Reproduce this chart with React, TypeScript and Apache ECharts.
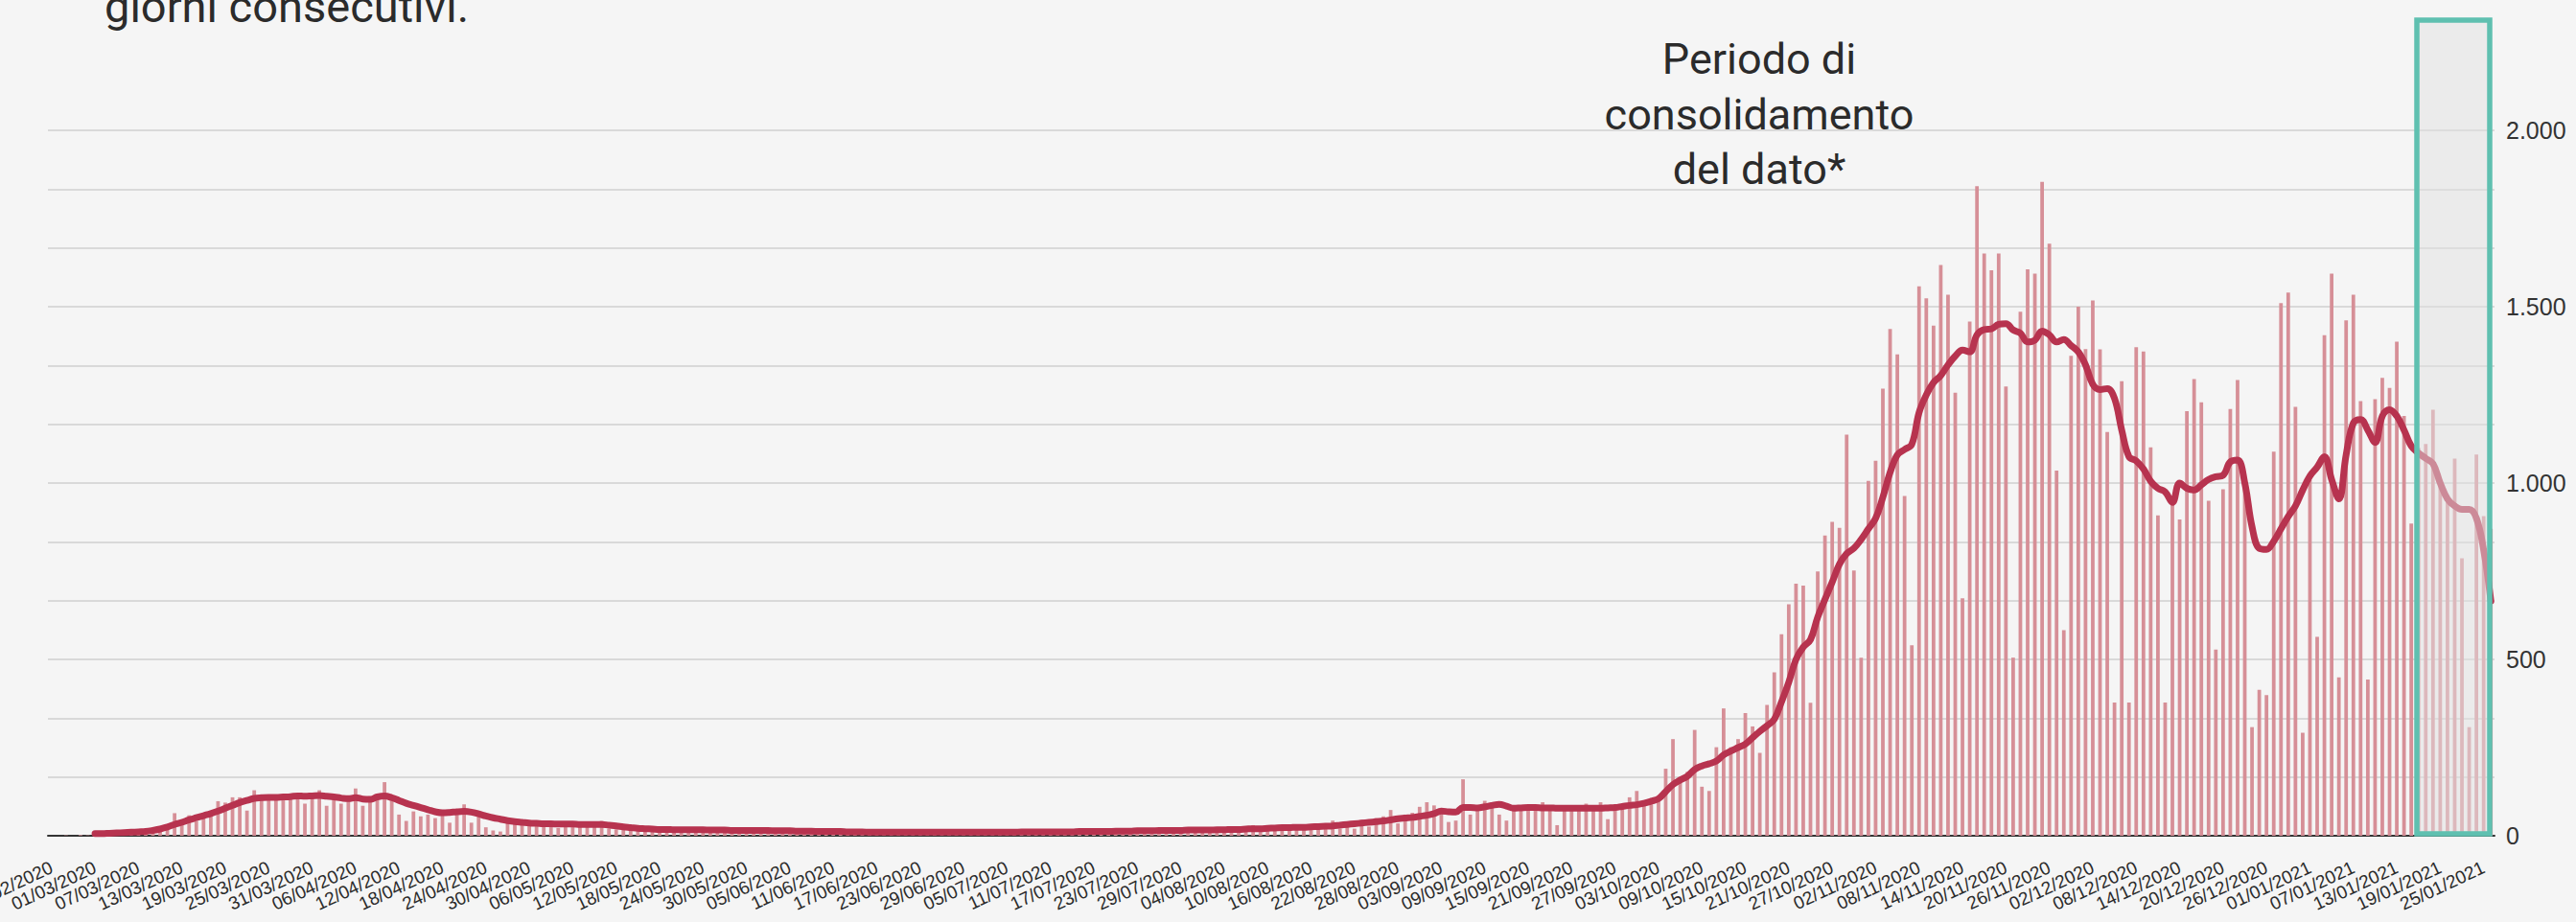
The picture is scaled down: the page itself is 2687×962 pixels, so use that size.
import React, { useEffect, useRef } from "react";
import * as echarts from "echarts";

// ---------- categories: daily dates 24/02/2020 .. 26/01/2021 ----------
const FIRST_DAY = Date.UTC(2020, 1, 24);
const DAY_COUNT = 338;
const pad2 = (n: number) => (n < 10 ? "0" + n : String(n));
const categories: string[] = [];
for (let i = 0; i < DAY_COUNT; i++) {
  const d = new Date(FIRST_DAY + i * 86400000);
  categories.push(`${pad2(d.getUTCDate())}/${pad2(d.getUTCMonth() + 1)}/${d.getUTCFullYear()}`);
}

// ---------- daily values (bars), by month ----------
const barsFeb = [0, 0, 1, 0, 2, 1];
const barsMar = [3, 1, 4, 6, 5, 9, 8, 12, 14, 20, 26, 64, 45, 58, 42, 51, 70, 98, 94, 109, 109, 71, 129, 106, 108, 104, 110, 105, 116, 91, 121];
const barsApr = [129, 85, 112, 91, 108, 134, 85, 112, 104, 152, 110, 60, 42, 69, 55, 60, 50, 65, 37, 62, 89, 37, 67, 24, 15, 12, 40, 35, 30, 38];
const barsMay = [28, 35, 30, 22, 40, 38, 34, 25, 30, 42, 20, 18, 25, 30, 15, 12, 20, 22, 18, 15, 10, 20, 16, 22, 14, 12, 18, 15, 13, 16, 12];
const barsJun = [14, 10, 12, 8, 14, 11, 9, 6, 13, 12, 9, 12, 8, 10, 7, 11, 9, 12, 6, 10, 12, 8, 9, 11, 7, 10, 8, 12, 9, 10];
const barsJul = [8, 10, 7, 12, 9, 11, 6, 10, 12, 8, 11, 9, 13, 10, 8, 12, 11, 9, 14, 10, 12, 11, 15, 13, 9, 14, 16, 12, 15, 18, 14];
const barsAug = [12, 16, 10, 18, 14, 20, 22, 30, 15, 20, 24, 18, 23, 25, 28, 20, 30, 35, 43, 20, 38, 20, 45, 26, 50, 55, 73, 35, 60, 65, 82];
const barsSep = [95, 86, 70, 39, 43, 160, 60, 85, 99, 95, 60, 43, 86, 80, 78, 82, 95, 85, 30, 75, 82, 78, 91, 80, 95, 47, 75, 78, 109, 127];
const barsOct = [88, 92, 100, 190, 274, 150, 181, 300, 139, 127, 251, 361, 251, 274, 348, 310, 235, 371, 463, 571, 656, 715, 709, 377, 749, 851, 890, 873, 1137, 752, 505];
const barsNov = [1006, 1063, 1268, 1437, 1365, 963, 540, 1558, 1524, 1446, 1618, 1534, 1256, 673, 1458, 1842, 1651, 1603, 1651, 1274, 505, 1486, 1606, 1594, 1854, 1679, 1035, 583, 1361, 1500];
const barsDec = [1380, 1518, 1379, 1145, 378, 1289, 378, 1385, 1373, 1101, 908, 378, 960, 897, 1204, 1295, 1229, 950, 528, 982, 1210, 1292, 1000, 308, 414, 399, 1089, 1510, 1540, 1216, 292];
const barsJan = [1008, 564, 1419, 1594, 449, 1461, 1534, 1232, 443, 1238, 1298, 1270, 1401, 1190, 885, 1100, 1111, 1208, 1000, 948, 1069, 787, 308, 1081, 906, 870];

// ---------- moving average (line), by month ----------
const avgFeb: (number | null)[] = [null, null, null, null, null, null];
const avgMar = [6, 6, 7, 8, 9, 10, 11, 12, 15, 19, 25, 32, 38, 45, 51, 57, 63, 70, 78, 86, 94, 100, 106, 108, 109, 109, 110, 111, 113, 112, 113];
const avgApr = [114, 112, 110, 107, 105, 108, 104, 103, 110, 113, 108, 100, 92, 86, 80, 74, 68, 65, 66, 68, 69, 67, 62, 56, 51, 47, 43, 40, 38, 36];
const avgMay = [35, 34, 34, 33, 33, 33, 32, 32, 32, 32, 30, 28, 25, 23, 21, 20, 19, 18, 18, 17, 17, 17, 17, 17, 16, 16, 16, 15, 15, 15, 15];
const avgJun = [15, 15, 14, 14, 14, 13, 13, 13, 12, 12, 12, 12, 11, 11, 11, 10, 10, 10, 10, 10, 10, 10, 10, 10, 10, 10, 10, 10, 10, 10];
const avgJul = [10, 10, 10, 10, 10, 10, 11, 11, 11, 11, 11, 11, 11, 11, 12, 12, 12, 12, 12, 13, 13, 13, 14, 14, 14, 15, 15, 15, 15, 16, 16];
const avgAug = [16, 16, 17, 17, 18, 18, 19, 20, 20, 21, 22, 23, 23, 24, 24, 25, 26, 27, 28, 30, 32, 34, 36, 38, 40, 42, 45, 48, 50, 52, 55];
const avgSep = [58, 63, 70, 68, 67, 80, 80, 79, 82, 86, 89, 84, 78, 79, 80, 80, 79, 79, 78, 78, 78, 78, 78, 78, 78, 79, 80, 83, 86, 88];
const avgOct = [92, 98, 105, 125, 145, 158, 169, 188, 198, 204, 212, 229, 240, 250, 260, 278, 296, 312, 330, 380, 435, 500, 535, 556, 620, 670, 719, 770, 800, 815, 840];
const avgNov = [870, 900, 960, 1030, 1080, 1095, 1110, 1200, 1250, 1285, 1305, 1335, 1360, 1377, 1372, 1420, 1435, 1437, 1450, 1452, 1434, 1425, 1400, 1405, 1431, 1420, 1400, 1407, 1390, 1372];
const avgDec = [1335, 1280, 1265, 1268, 1240, 1150, 1075, 1063, 1040, 1005, 985, 975, 945, 1000, 985, 980, 995, 1010, 1018, 1022, 1060, 1065, 1000, 876, 815, 812, 835, 870, 905, 935, 980];
const avgJan = [1020, 1045, 1075, 1010, 955, 1080, 1170, 1180, 1150, 1115, 1190, 1208, 1190, 1150, 1105, 1085, 1070, 1055, 1000, 955, 935, 925, 925, 900, 810, 665];

// ---------- axis ticks ----------
const yLabelTicks = [0, 500, 1000, 1500, 2000];
const yMax = 2000;
const yGridStep = 500 / 3;

const bars = [
  ...barsFeb, ...barsMar, ...barsApr, ...barsMay, ...barsJun, ...barsJul,
  ...barsAug, ...barsSep, ...barsOct, ...barsNov, ...barsDec, ...barsJan,
];
const avg = [
  ...avgFeb, ...avgMar, ...avgApr, ...avgMay, ...avgJun, ...avgJul,
  ...avgAug, ...avgSep, ...avgOct, ...avgNov, ...avgDec, ...avgJan,
];

const fmtThousands = (v: number) =>
  v >= 1000 ? `${Math.floor(v / 1000)}.${String(v % 1000).padStart(3, "0")}` : String(v);

export default function App() {
  const ref = useRef<HTMLDivElement>(null);
  useEffect(() => {
    if (!ref.current) return;
    const chart = echarts.init(ref.current, undefined, { renderer: "svg" });
    chart.setOption({
      animation: false,
      backgroundColor: "#f5f5f5",
      grid: {
        left: 50,
        right: 85,
        top: 136,
        bottom: 90,
        containLabel: false,
        outerBoundsMode: "none",
      },
      xAxis: {
        type: "category",
        data: categories,
        boundaryGap: true,
        axisLine: { lineStyle: { color: "#333", width: 2 } },
        axisTick: { show: false },
        axisLabel: {
          interval: 5,
          rotate: 25,
          fontSize: 19,
          color: "#2b2b2b",
          fontFamily: "Liberation Sans",
          margin: 32,
        },
        splitLine: { show: false },
      },
      yAxis: {
        type: "value",
        position: "right",
        min: 0,
        max: yMax,
        interval: yGridStep,
        axisLine: { show: false },
        axisTick: { show: false },
        axisLabel: {
          fontSize: 25,
          color: "#333",
          fontFamily: "Liberation Sans",
          margin: 12,
          formatter: (v: number) => {
            const r = Math.round(v);
            return yLabelTicks.includes(r) ? fmtThousands(r) : "";
          },
        },
        splitLine: { lineStyle: { color: "#d9d9d9", width: 2 } },
      },
      series: [
        {
          type: "bar",
          data: bars,
          barWidth: "50%",
          itemStyle: { color: "#d68f97" },
          z: 2,
        },
        {
          type: "line",
          data: avg,
          smooth: 0.4,
          symbol: "none",
          lineStyle: { color: "#b7334f", width: 7, cap: "round", join: "round" },
          z: 3,
        },
      ],
      graphic: [
        {
          type: "text",
          x: 109,
          y: 6,
          style: {
            text: "giorni consecutivi.",
            fontSize: 47,
            fontFamily: "Roboto",
            fill: "#2b2b2b",
            textAlign: "left",
            textVerticalAlign: "middle",
          },
        },
        {
          type: "text",
          x: 1835,
          y: 33,
          style: {
            text: "Periodo di\nconsolidamento\ndel dato*",
            fontSize: 45,
            fontFamily: "Roboto",
            fill: "#2b2b2b",
            textAlign: "center",
            textVerticalAlign: "top",
            lineHeight: 57.5,
          },
        },
        {
          type: "rect",
          z: 100,
          shape: { x: 2521, y: 21, width: 76, height: 849 },
          style: { fill: "rgba(225,225,225,0.5)", stroke: "#5fc0b0", lineWidth: 5.5 },
        },
      ],
    });
    return () => chart.dispose();
  }, []);
  return (
    <div
      ref={ref}
      style={{ position: "absolute", left: 0, top: 0, width: 2687, height: 962, background: "#f5f5f5" }}
    />
  );
}
